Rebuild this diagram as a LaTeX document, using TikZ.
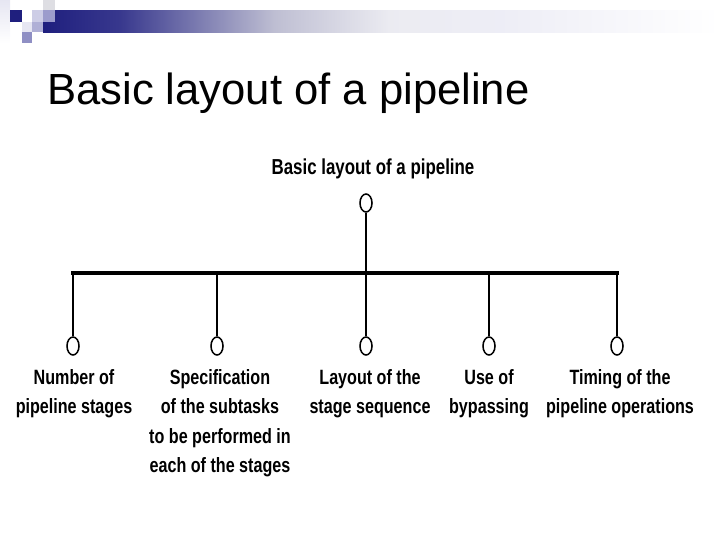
\documentclass[tikz,border=0pt]{standalone}
\usepackage{fontspec}
\setmainfont{Liberation Sans}
\newfontfamily\narrowsans[FakeStretch=0.78]{Liberation Sans}
\usetikzlibrary{positioning,shapes.geometric}
\definecolor{navy}{HTML}{1F1F7E}
\definecolor{lav}{HTML}{9C9CCC}
\definecolor{lavlight}{HTML}{CDCDE6}
\definecolor{lavpale}{HTML}{E6E6F2}
\tikzset{
  tile/.style={fill=#1, draw=none},
  headline/.style={font=\fontsize{31}{36}\selectfont, inner sep=0pt, anchor=base west},
  scan/.style={font=\narrowsans\bfseries\fontsize{14.7}{20.9}\selectfont, align=center, inner sep=0pt, anchor=north},
  knob/.style={ellipse, draw, line width=1.1pt, minimum width=0.3cm, minimum height=0.45cm, inner sep=0pt},
  bus/.style={line width=2.8pt, line cap=rect},
  drop/.style={line width=1.4pt}}

\begin{document}
\begin{tikzpicture}[x=0.025cm, y=-0.025cm]
\useasboundingbox (0,0) rectangle (720,540);
% title bar
\shade[left color=navy, right color=navy!80!lav] (43,10) rectangle (120,32);
\shade[left color=navy!80!lav, right color=lav!70!gray!60] (120,10) rectangle (275,32);
\shade[left color=lav!70!gray!60, right color=lavlight!80!gray!30] (275,10) rectangle (390,32);
\shade[left color=lavlight!80!gray!30, right color=lavpale!70] (390,10) rectangle (505,32);
\shade[left color=lavpale!70, right color=white] (505,10) rectangle (720,32);
\shade[top color=lavpale, bottom color=white] (0,0) rectangle (10,43);
\fill[tile=navy] (10,10) rectangle (22,22);
\fill[tile=lavlight] (32,10) rectangle (43,22);
\fill[tile=lavpale!70!gray!60] (43,0) rectangle (55,10);
\fill[tile=lav] (43,10) rectangle (55,22);
\fill[tile=lavpale] (22,22) rectangle (32,32);
\fill[tile=lav!80] (32,22) rectangle (43,32);
\fill[tile=lav!90!navy] (22,32) rectangle (32,43);

\node[headline] (title) at (47,104) {Basic layout of a pipeline};

% tree
\node[scan, font=\narrowsans\bfseries\fontsize{15.4}{20.9}\selectfont] (root) at (373,159) {Basic layout of a pipeline};
\node[knob] (top) at (366,203) {};
\coordinate (bl) at (73,273);
\coordinate (br) at (617,273);
\coordinate (bm) at (366,273);
\draw[bus] (bl) -- (br);
\draw[drop] (top) -- (bm);

\node[knob] (k1) at (73,346) {};
\node[knob] (k2) at (217,346) {};
\node[knob] (k3) at (366,346) {};
\node[knob] (k4) at (489,346) {};
\node[knob] (k5) at (617,346) {};
\foreach \k in {1,...,5}
  \draw[drop] (k\k |- bl) -- (k\k);

\node[scan] (num) at (74,369) {Number of\\pipeline stages};
\node[scan] (spec) at (220,369) {Specification\\of the subtasks\\to be performed in\\each of the stages};
\node[scan] (lay) at (370,369) {Layout of the\\stage sequence};
\node[scan] (use) at (489,369) {Use of\\bypassing};
\node[scan] (tim) at (620,369) {Timing of the\\pipeline operations};
\end{tikzpicture}
\end{document}
